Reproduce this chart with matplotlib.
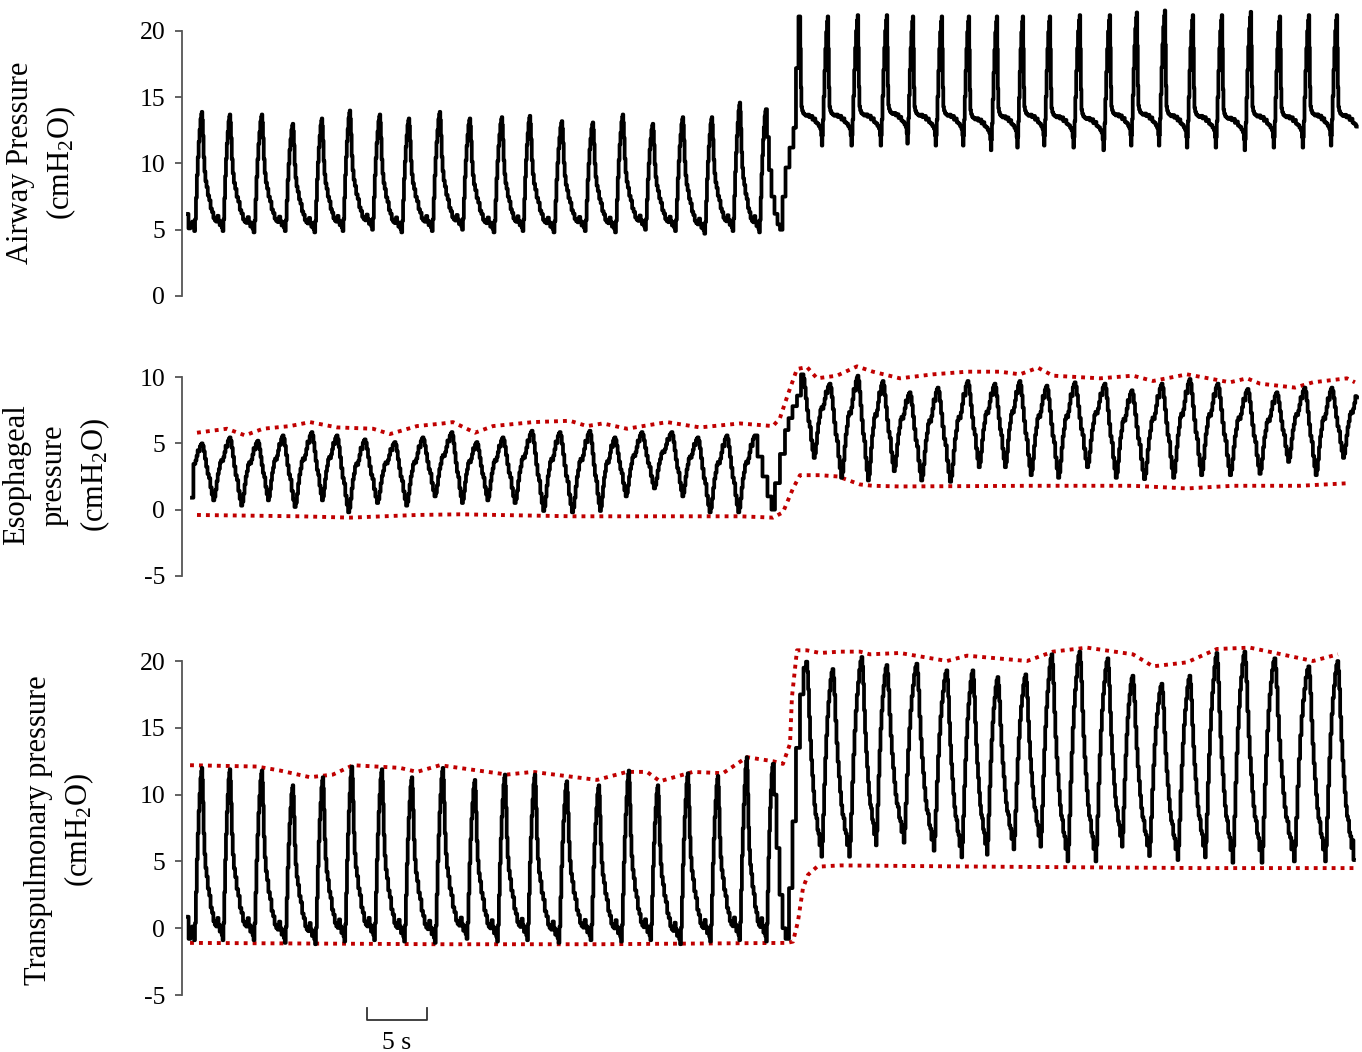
import numpy as np
import matplotlib.pyplot as plt

plt.rcParams['font.family'] = ['Liberation Serif', 'DejaVu Serif']
plt.rcParams['mathtext.fontset'] = 'custom'
plt.rcParams['mathtext.rm'] = 'Liberation Serif'
plt.rcParams['mathtext.default'] = 'regular'
plt.rcParams['axes.unicode_minus'] = False

# ---------------- data (time in s, pressure in cmH2O) ----------------
# airway pressure: per-breath peak times / peak values / lowest value after the peak
aw_a_t = [1.67, 4.00, 6.67, 9.25, 11.67, 14.00, 16.50, 18.92, 21.50, 24.00,
          26.67, 29.00, 31.67, 34.25, 36.75, 39.25, 41.75, 44.17, 46.50, 48.67]
aw_a_peak = [13.9, 13.7, 13.7, 13.0, 13.4, 14.0, 13.7, 13.4, 13.9, 13.4,
             13.5, 13.6, 13.2, 13.1, 13.7, 13.0, 13.5, 13.5, 14.6, 14.1]
aw_a_low = [4.9, 4.8, 4.9, 4.8, 4.9, 5.0, 4.8, 4.9, 5.0, 4.8,
            4.9, 4.8, 4.9, 4.8, 5.0, 4.9, 4.7, 4.9, 4.8, 5.0]
aw_b_t = [51.50, 53.83, 56.33, 58.75, 60.92, 63.33, 65.58, 67.92, 70.08, 72.33,
          74.83, 77.33, 79.58, 81.92, 84.25, 86.67, 89.08, 91.50, 93.92, 96.25]
aw_b_peak = [21.1, 21.1, 21.2, 21.2, 21.1, 21.1, 21.1, 21.1, 21.1, 21.1,
             21.2, 21.2, 21.4, 21.55, 21.2, 21.2, 21.45, 21.1, 21.2, 21.2]
aw_b_low = [11.35, 11.35, 11.35, 11.5, 11.35, 11.35, 11.0, 11.2, 11.35, 11.2,
            11.0, 11.35, 11.35, 11.2, 11.2, 11.0, 11.2, 11.2, 11.35, 11.3]
aw_lead_t = [0.50, 0.58]
aw_lead_v = [6.2, 5.1]
aw_step_t = [48.83, 49.00, 49.25, 49.50, 49.75, 49.92, 50.17, 50.42, 50.83, 51.08, 51.25]
aw_step_v = [12.0, 9.5, 7.5, 6.2, 5.4, 5.0, 7.5, 9.7, 11.2, 12.7, 17.2]

# esophageal pressure
es_a_t = [1.67, 4.00, 6.33, 8.42, 10.83, 12.92, 15.25, 17.75, 20.08, 22.50, 24.58,
          26.75, 29.17, 31.50, 34.00, 36.08, 38.33, 40.83, 43.00, 45.42, 47.75]
es_a_peak = [5.0, 5.45, 5.2, 5.6, 5.85, 5.6, 5.3, 5.1, 5.45, 5.85, 5.1,
             5.45, 5.95, 5.85, 5.95, 5.45, 5.85, 5.85, 5.45, 5.6, 5.6]
es_a_low = [0.7, 0.3, 0.7, 0.2, 0.7, -0.2, 0.5, 0.3, 1.0, 0.5, 0.7,
            0.5, -0.1, -0.2, -0.1, 1.0, 1.6, 1.0, -0.2, -0.2, 0.0]
es_b_t = [51.75, 54.00, 56.33, 58.42, 60.67, 63.00, 65.50, 67.75, 69.83, 72.08,
          74.42, 76.92, 79.17, 81.67, 84.00, 86.33, 88.83, 91.25, 93.58, 95.83]
es_b_peak = [10.2, 9.5, 10.1, 9.7, 8.85, 9.2, 9.7, 9.5, 9.7, 9.35,
             9.6, 9.5, 9.0, 9.5, 9.85, 9.5, 9.1, 8.85, 9.2, 9.2]
es_b_low = [3.9, 2.4, 2.2, 2.9, 2.2, 2.1, 3.2, 3.2, 2.6, 2.4,
            3.2, 2.4, 2.3, 2.4, 2.6, 2.6, 2.7, 3.6, 2.6, 3.9]
es_lead_t = [0.83]
es_lead_v = [0.9]
es_step_t = [48.17, 48.58, 49.00, 49.25, 49.58, 50.08, 50.42, 50.67, 51.08, 51.42]
es_step_v = [4.0, 2.5, 1.0, 0.0, 2.0, 4.2, 6.0, 6.9, 7.8, 8.6]
es_up_t = [1.25, 3.75, 5.25, 6.75, 9.0, 10.67, 12.92, 15.92, 17.33, 19.58, 21.75, 22.58,
           24.42, 25.92, 29.25, 32.33, 33.75, 35.08, 37.08, 40.42, 43.17, 46.5, 49.25,
           49.83, 50.5, 51.25, 52.08, 52.92, 54.58, 56.25, 57.58, 59.83, 62.58, 65.42,
           68.17, 69.83, 71.33, 72.58, 76.5, 79.25, 80.92, 83.75, 87.33, 88.75, 89.83,
           92.75, 94.25, 97.08, 97.75]
es_up_v = [5.8, 6.1, 5.6, 6.1, 6.3, 6.6, 6.2, 6.1, 5.7, 6.3, 6.5, 6.6,
           5.8, 6.3, 6.6, 6.7, 6.3, 6.5, 6.1, 6.6, 6.2, 6.5, 6.3,
           6.9, 8.7, 10.6, 10.75, 9.9, 10.1, 10.8, 10.4, 9.9, 10.2, 10.4,
           10.4, 10.2, 10.7, 10.1, 9.9, 10.1, 9.7, 10.2, 9.6, 9.9, 9.5,
           9.2, 9.6, 9.9, 9.6]
es_lo_t = [1.25, 9.83, 14.0, 19.58, 23.17, 32.58, 46.5, 49.25, 50.08, 50.92, 51.5,
           53.17, 54.67, 56.5, 57.58, 59.83, 70.92, 79.25, 83.75, 87.58, 93.17, 97.33]
es_lo_v = [-0.4, -0.5, -0.6, -0.4, -0.35, -0.5, -0.5, -0.6, -0.2, 1.6, 2.6,
           2.6, 2.5, 1.9, 1.8, 1.75, 1.8, 1.8, 1.6, 1.8, 1.8, 2.0]

# transpulmonary pressure
tp_a_t = [1.67, 4.00, 6.67, 9.25, 11.75, 14.17, 16.67, 19.17, 21.75, 24.42,
          26.92, 29.42, 32.08, 34.75, 37.25, 39.67, 42.17, 44.67, 47.08, 49.25]
tp_a_peak = [12.0, 11.9, 11.8, 10.7, 11.3, 12.1, 11.9, 11.3, 12.0, 11.1,
             11.5, 11.5, 11.0, 10.7, 11.8, 10.7, 11.6, 11.4, 12.8, 12.3]
tp_a_low = [-0.9, -0.9, -1.1, -1.2, -1.0, -0.9, -1.0, -1.1, -0.8, -1.0,
            -0.9, -1.1, -0.9, -1.0, -0.9, -1.2, -1.0, -0.9, -1.0, -0.8]
tp_b_t = [52.08, 54.25, 56.67, 58.75, 61.25, 63.75, 65.92, 68.00, 70.33, 72.50,
          74.83, 77.17, 79.25, 81.67, 84.00, 86.25, 88.58, 91.08, 93.92, 96.33]
tp_b_peak = [19.95, 19.4, 20.3, 19.7, 19.8, 19.3, 19.3, 18.8, 19.0, 20.5,
             20.7, 20.2, 18.9, 18.3, 18.9, 20.6, 20.7, 20.2, 19.6, 20.0]
tp_b_low = [5.35, 5.35, 6.2, 6.4, 5.8, 5.3, 5.5, 5.9, 6.1, 5.0,
            5.0, 6.1, 5.4, 5.1, 5.3, 4.9, 4.9, 5.0, 5.0, 5.1]
tp_lead_t = [0.50, 0.60]
tp_lead_v = [0.86, -0.8]
tp_step_t = [49.42, 49.67, 49.92, 50.17, 50.42, 50.75, 51.00, 51.33, 51.67, 51.92]
tp_step_v = [10.0, 6.0, 2.5, 0.0, -0.8, 3.0, 8.0, 13.5, 17.5, 19.5]
tp_up_t = [0.67, 6.25, 8.17, 10.67, 12.58, 14.25, 18.17, 19.58, 21.5, 27.08, 29.25,
           34.58, 37.08, 38.75, 39.83, 42.58, 45.08, 47.08, 49.25, 50.08, 50.67, 50.83,
           51.25, 52.08, 53.17, 54.83, 56.5, 57.33, 59.83, 63.75, 65.42, 70.42, 72.58,
           75.42, 79.25, 80.92, 83.75, 86.25, 89.0, 94.25, 96.33]
tp_up_v = [12.2, 12.1, 11.8, 11.3, 11.5, 12.2, 12.0, 11.7, 12.2, 11.5, 11.7,
           11.1, 11.7, 11.7, 11.0, 11.7, 11.6, 12.8, 12.5, 12.3, 13.8, 17.3,
           20.8, 20.8, 20.6, 20.7, 20.7, 20.5, 20.6, 20.0, 20.4, 20.0, 20.7,
           21.0, 20.5, 19.6, 19.9, 20.9, 21.0, 20.0, 20.5]
tp_lo_t = [0.67, 21.5, 34.83, 50.42, 50.92, 51.33, 51.75, 52.17, 52.92, 54.83,
           68.17, 84.83, 97.75]
tp_lo_v = [-1.1, -1.2, -1.2, -1.1, -1.0, 0.5, 3.0, 4.0, 4.6, 4.7, 4.6, 4.5, 4.5]

# breath shapes (phase within a breath, fraction between low and peak)
shape_a_p = [0.00, 0.02, 0.04, 0.07, 0.10, 0.14, 0.18, 0.23, 0.28, 0.33, 0.38, 0.43,
             0.48, 0.53, 0.57, 0.61, 0.65, 0.69, 0.72, 0.75, 0.78, 0.81, 0.84, 0.87,
             0.90, 0.93, 0.96, 0.98]
shape_a_s = [1.00, 0.93, 0.80, 0.62, 0.50, 0.42, 0.37, 0.30, 0.26, 0.19, 0.16, 0.11,
             0.09, 0.08, 0.13, 0.09, 0.05, 0.08, 0.03, 0.00, 0.10, 0.28, 0.47, 0.62,
             0.75, 0.85, 0.94, 0.98]
shape_aw_b_p = [0.00, 0.02, 0.04, 0.06, 0.09, 0.13, 0.18, 0.24, 0.30, 0.36, 0.42,
                0.47, 0.52, 0.58, 0.64, 0.70, 0.74, 0.77, 0.79, 0.81, 0.83, 0.86,
                0.89, 0.92, 0.95, 0.98]
shape_aw_b_s = [1.00, 0.75, 0.45, 0.30, 0.27, 0.25, 0.24, 0.23, 0.24, 0.22, 0.23,
                0.20, 0.21, 0.18, 0.17, 0.15, 0.13, 0.08, 0.00, 0.08, 0.20, 0.38,
                0.58, 0.75, 0.88, 0.96]
shape_es_p = [0.00, 0.04, 0.08, 0.12, 0.17, 0.22, 0.27, 0.32, 0.37, 0.42, 0.46, 0.50,
              0.54, 0.58, 0.62, 0.66, 0.70, 0.74, 0.78, 0.82, 0.86, 0.90, 0.94, 0.97]
shape_es_s = [1.00, 0.95, 0.85, 0.72, 0.58, 0.45, 0.38, 0.22, 0.10, 0.00, 0.06, 0.18,
              0.32, 0.44, 0.52, 0.62, 0.66, 0.64, 0.70, 0.78, 0.88, 0.86, 0.95, 0.98]
shape_tp_b_p = [0.00, 0.03, 0.06, 0.10, 0.14, 0.18, 0.22, 0.26, 0.30, 0.34, 0.38,
                0.42, 0.46, 0.50, 0.54, 0.57, 0.60, 0.64, 0.68, 0.72, 0.76, 0.80,
                0.84, 0.88, 0.92, 0.96]
shape_tp_b_s = [1.00, 0.95, 0.86, 0.72, 0.60, 0.50, 0.42, 0.34, 0.27, 0.22, 0.20,
                0.14, 0.12, 0.06, 0.10, 0.00, 0.08, 0.22, 0.38, 0.52, 0.64, 0.74,
                0.82, 0.88, 0.94, 0.98]

scale_bar_t = [15.42, 20.42]
scale_bar_label = '5 s'


def breaths(peak_t, peak_v, low_v, sp, ss, t_from, t_to):
    period = np.mean(np.diff(peak_t))
    tt = [peak_t[0] - period] + list(peak_t) + [peak_t[-1] + period]
    pv = [peak_v[0]] + list(peak_v) + [peak_v[-1]]
    lv = [low_v[0]] + list(low_v) + [low_v[-1]]
    ts, vs = [], []
    for i in range(len(tt) - 1):
        dt = tt[i + 1] - tt[i]
        for p, s in zip(sp, ss):
            top = pv[i] + p * (pv[i + 1] - pv[i])
            ts.append(tt[i] + p * dt)
            vs.append(lv[i] + s * (top - lv[i]))
    ts, vs = np.array(ts), np.array(vs)
    keep = (ts >= t_from) & (ts <= t_to)
    return ts[keep], vs[keep]


def trace(lead_t, lead_v, a, step_t, step_v, b):
    ta, va = a
    tb, vb = b
    return (np.concatenate([lead_t, ta, step_t, tb]),
            np.concatenate([lead_v, va, step_v, vb]))


aw = trace(aw_lead_t, aw_lead_v,
           breaths(aw_a_t, aw_a_peak, aw_a_low, shape_a_p, shape_a_s, 0.75, aw_a_t[-1]),
           aw_step_t, aw_step_v,
           breaths(aw_b_t, aw_b_peak, aw_b_low, shape_aw_b_p, shape_aw_b_s, aw_b_t[0], 97.9))
es = trace(es_lead_t, es_lead_v,
           breaths(es_a_t, es_a_peak, es_a_low, shape_es_p, shape_es_s, 1.0, es_a_t[-1]),
           es_step_t, es_step_v,
           breaths(es_b_t, es_b_peak, es_b_low, shape_es_p, shape_es_s, es_b_t[0], 98.0))
tp = trace(tp_lead_t, tp_lead_v,
           breaths(tp_a_t, tp_a_peak, tp_a_low, shape_a_p, shape_a_s, 0.75, tp_a_t[-1]),
           tp_step_t, tp_step_v,
           breaths(tp_b_t, tp_b_peak, tp_b_low, shape_tp_b_p, shape_tp_b_s, tp_b_t[0], 97.7))

fig = plt.figure(figsize=(13.62, 10.52), dpi=100)
left, width = 182 / 1362, 1178 / 1362
ax1 = fig.add_axes([left, 1 - 296 / 1052, width, 265 / 1052])
ax2 = fig.add_axes([left, 1 - 576 / 1052, width, 199 / 1052])
ax3 = fig.add_axes([left, 1 - 995 / 1052, width, 334 / 1052])

red = '#c00000'
dots = (0, (1, 1.3))

for ax, (t, v), ylim, yt in [(ax1, aw, (0, 20), [0, 5, 10, 15, 20]),
                             (ax2, es, (-5, 10), [-5, 0, 5, 10]),
                             (ax3, tp, (-5, 20), [-5, 0, 5, 10, 15, 20])]:
    ax.plot(t, v, color='black', lw=2.7, drawstyle='steps-mid', clip_on=False, zorder=3)
    ax.set_xlim(0, 98.17)
    ax.set_ylim(*ylim)
    ax.set_yticks(yt)
    ax.set_xticks([])
    for s in ['top', 'right', 'bottom']:
        ax.spines[s].set_visible(False)
    ax.spines['left'].set_color('#555555')
    ax.spines['left'].set_linewidth(1.3)
    ax.tick_params(axis='y', direction='out', length=5, width=1.3, color='#555555',
                   labelsize=18.5, pad=7)
    ax.patch.set_alpha(0)

ax2.plot(es_up_t, es_up_v, color=red, lw=2.8, ls=dots, clip_on=False, zorder=2)
ax2.plot(es_lo_t, es_lo_v, color=red, lw=2.8, ls=dots, clip_on=False, zorder=2)
ax3.plot(tp_up_t, tp_up_v, color=red, lw=2.8, ls=dots, clip_on=False, zorder=2)
ax3.plot(tp_lo_t, tp_lo_v, color=red, lw=2.8, ls=dots, clip_on=False, zorder=2)

# 5 s scale bar under the bottom trace
sb0, sb1 = scale_bar_t
ax3.plot([sb0, sb0, sb1, sb1], [-5.97, -6.87, -6.87, -5.97], color='#333333', lw=1.3,
         clip_on=False)
ax3.text((sb0 + sb1) / 2, -8.6, scale_bar_label, ha='center', va='center', fontsize=18.5)

lab = dict(rotation=90, ha='center', va='center', fontsize=22, linespacing=1.4,
           multialignment='center')
fig.text(42 / 1362, 1 - 163 / 1052, 'Airway Pressure\n(cmH$_2$O)', **lab)
fig.text(57 / 1362, 1 - 475 / 1052, 'Esophageal\npressure\n(cmH$_2$O)', **lab)
fig.text(60 / 1362, 1 - 830 / 1052, 'Transpulmonary pressure\n(cmH$_2$O)', **lab)

fig.savefig('out.png', dpi=100)
